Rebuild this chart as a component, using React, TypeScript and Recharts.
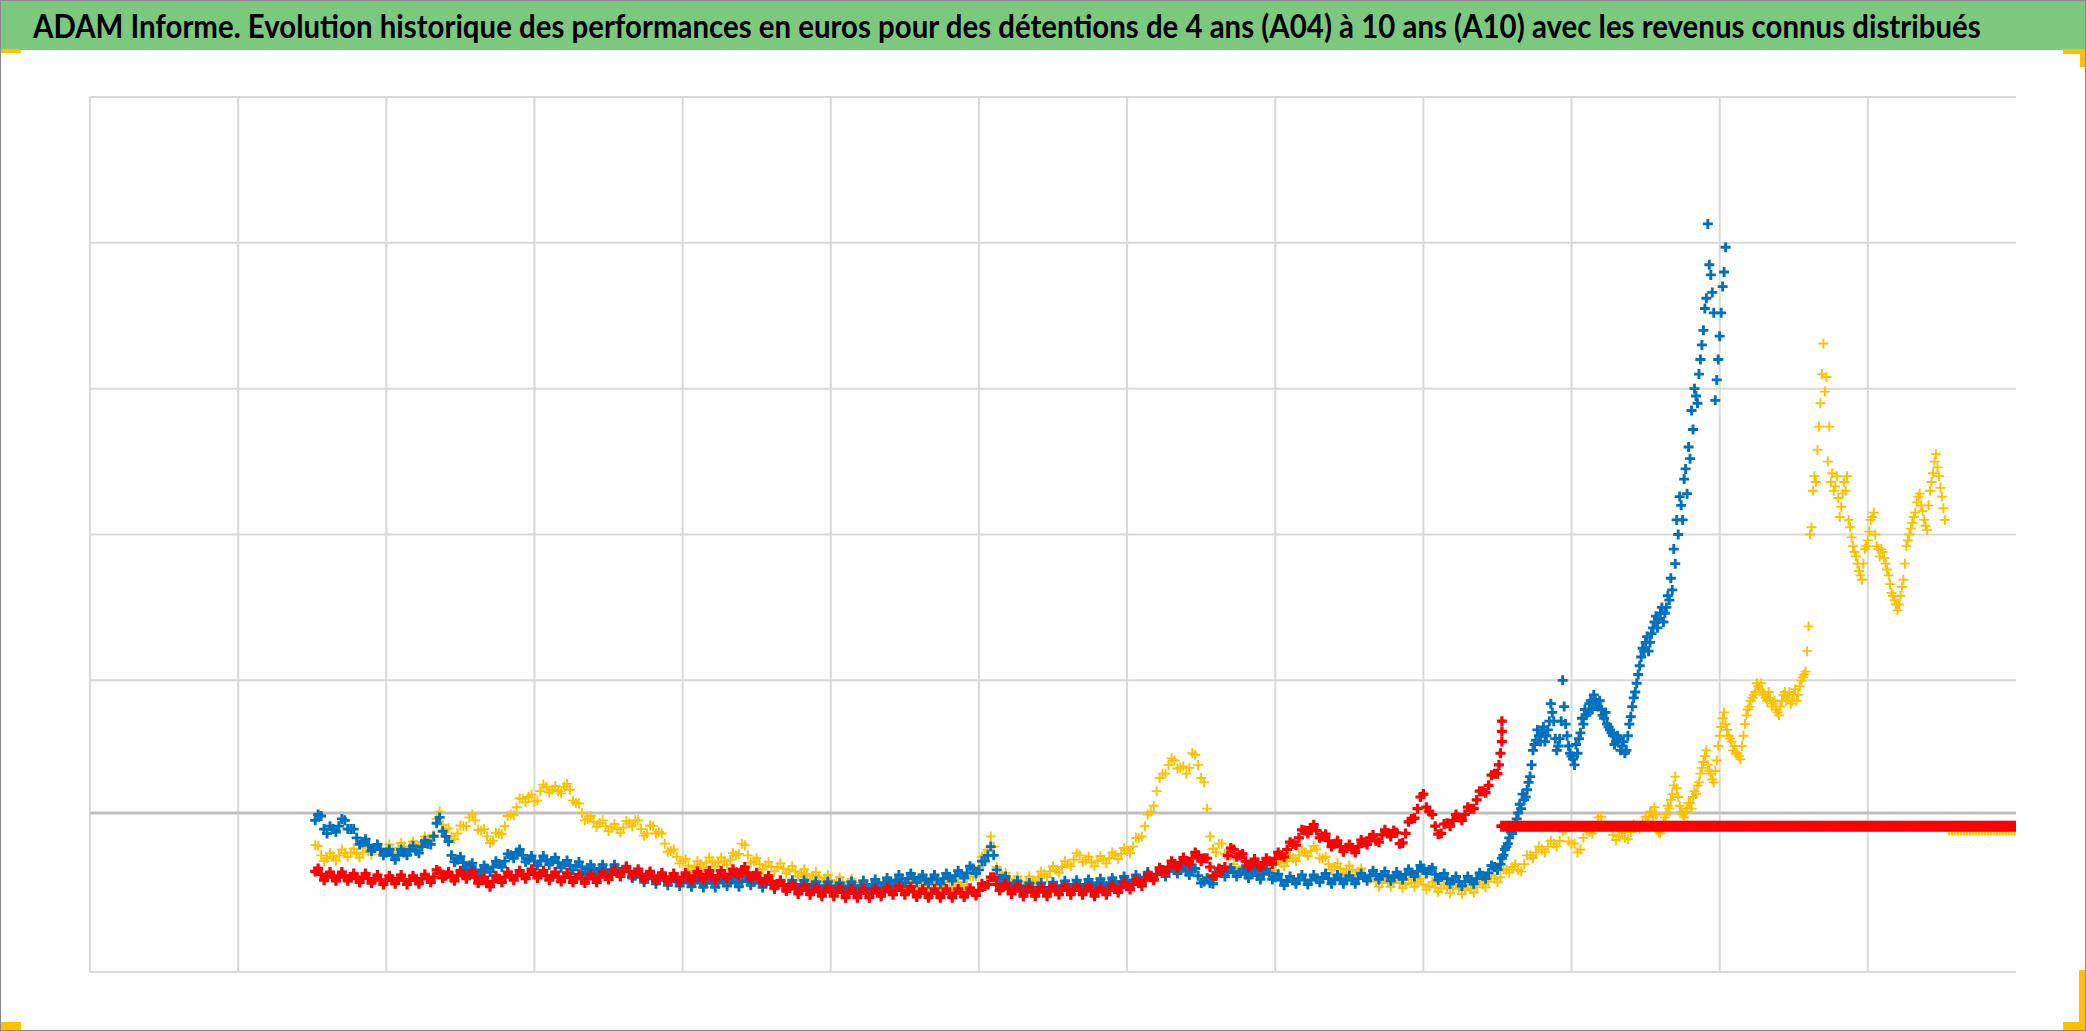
import React from "react";
import { ScatterChart, Scatter, XAxis, YAxis, ReferenceLine } from "recharts";

const TITLE =
  "ADAM Informe. Evolution historique des performances en euros pour des détentions de 4 ans (A04) à 10 ans (A10) avec les revenus connus distribués";

// x = years from the left edge of the plot (13 grid steps), y = relative value (flat level = 1)
const xTicks = [0, 1, 2, 3, 4, 5, 6, 7, 8, 9, 10, 11, 12];
const yTicks = [0, 2, 3, 4, 5, 6];
const axisCross = 1.09;

const step = 0.02;

// A04 - blue
const blueStart = 1.52;
const blueValues = [
  1.04, 1.08, 1.07, 0.98, 0.95, 1.0, 0.98, 0.96, 1.0, 1.05, 1.04, 0.98, 0.98, 0.98, 0.92, 0.875, 0.89, 0.91, 0.87, 0.83, 0.85, 0.875, 0.84, 0.8, 0.82,
  0.84, 0.8, 0.77, 0.8, 0.84, 0.82, 0.8, 0.84, 0.865, 0.83, 0.815, 0.86, 0.9, 0.88, 0.875, 0.93, 1.02, 1.06, 0.965, 0.93, 0.895, 0.8, 0.755, 0.77, 0.79,
  0.75, 0.71, 0.73, 0.745, 0.7, 0.665, 0.69, 0.73, 0.71, 0.685, 0.72, 0.76, 0.74, 0.72, 0.76, 0.81, 0.8, 0.78, 0.82, 0.84, 0.8, 0.755, 0.77, 0.795, 0.76,
  0.73, 0.76, 0.795, 0.77, 0.735, 0.76, 0.785, 0.75, 0.715, 0.74, 0.765, 0.73, 0.7, 0.73, 0.755, 0.72, 0.685, 0.71, 0.735, 0.7, 0.675, 0.71, 0.735, 0.7, 0.67,
  0.7, 0.735, 0.71, 0.675, 0.7, 0.725, 0.69, 0.645, 0.66, 0.685, 0.65, 0.615, 0.64, 0.67, 0.64, 0.605, 0.63, 0.66, 0.63, 0.595, 0.62, 0.65, 0.62, 0.59, 0.62,
  0.645, 0.61, 0.585, 0.62, 0.645, 0.61, 0.58, 0.61, 0.64, 0.61, 0.58, 0.61, 0.645, 0.62, 0.59, 0.62, 0.645, 0.61, 0.585, 0.62, 0.655, 0.63, 0.595, 0.62, 0.645,
  0.61, 0.58, 0.61, 0.635, 0.6, 0.57, 0.6, 0.63, 0.6, 0.57, 0.6, 0.63, 0.6, 0.57, 0.6, 0.63, 0.6, 0.565, 0.59, 0.62, 0.59, 0.56, 0.59, 0.62, 0.59,
  0.555, 0.58, 0.61, 0.585, 0.56, 0.59, 0.62, 0.59, 0.56, 0.59, 0.625, 0.6, 0.57, 0.6, 0.635, 0.61, 0.58, 0.61, 0.645, 0.62, 0.595, 0.63, 0.665, 0.64, 0.61,
  0.64, 0.675, 0.65, 0.615, 0.64, 0.665, 0.63, 0.605, 0.64, 0.665, 0.63, 0.605, 0.64, 0.675, 0.65, 0.625, 0.66, 0.695, 0.67, 0.645, 0.68, 0.725, 0.71, 0.675, 0.7,
  0.76, 0.76, 0.8, 0.86, 0.8, 0.7, 0.64, 0.64, 0.655, 0.61, 0.575, 0.6, 0.625, 0.59, 0.555, 0.58, 0.61, 0.58, 0.55, 0.575, 0.61, 0.58, 0.55, 0.58, 0.615,
  0.59, 0.56, 0.59, 0.625, 0.6, 0.57, 0.6, 0.63, 0.6, 0.57, 0.6, 0.635, 0.61, 0.58, 0.61, 0.64, 0.61, 0.58, 0.61, 0.645, 0.62, 0.59, 0.62, 0.655, 0.63,
  0.6, 0.63, 0.665, 0.64, 0.615, 0.65, 0.685, 0.66, 0.635, 0.67, 0.705, 0.68, 0.655, 0.69, 0.725, 0.7, 0.675, 0.71, 0.73, 0.69, 0.665, 0.7, 0.71, 0.66, 0.61,
  0.62, 0.645, 0.61, 0.605, 0.66, 0.705, 0.69, 0.655, 0.68, 0.715, 0.69, 0.655, 0.68, 0.705, 0.67, 0.645, 0.68, 0.7, 0.66, 0.635, 0.67, 0.705, 0.68, 0.635, 0.65,
  0.67, 0.63, 0.595, 0.62, 0.655, 0.63, 0.605, 0.64, 0.665, 0.63, 0.6, 0.63, 0.665, 0.64, 0.615, 0.65, 0.675, 0.64, 0.605, 0.63, 0.665, 0.64, 0.605, 0.63, 0.66,
  0.63, 0.605, 0.64, 0.675, 0.65, 0.625, 0.66, 0.695, 0.67, 0.635, 0.66, 0.69, 0.66, 0.625, 0.65, 0.685, 0.66, 0.635, 0.67, 0.705, 0.68, 0.655, 0.69, 0.73, 0.71,
  0.675, 0.7, 0.715, 0.67, 0.63, 0.65, 0.675, 0.64, 0.605, 0.63, 0.655, 0.62, 0.59, 0.62, 0.655, 0.63, 0.605, 0.64, 0.68, 0.66, 0.64, 0.68, 0.73, 0.72, 0.7,
];
const blueLateStart = 9.52;
const blueLateValues = [
  0.74, 0.8, 0.86, 0.92, 0.95, 1.02, 1.09, 1.12, 1.18,
  1.25, 1.34, 1.52, 1.59, 1.62, 1.64, 1.58, 1.66, 1.84, 1.72,
  1.52, 1.6, 2.0, 1.7, 1.55, 1.48, 1.42, 1.5, 1.64, 1.7,
  1.76, 1.84, 1.8, 1.87, 1.82, 1.8, 1.74, 1.7, 1.66, 1.62,
  1.58, 1.6, 1.55, 1.5, 1.62, 1.75, 1.88, 1.98, 2.1, 2.22,
  2.26, 2.2, 2.32, 2.4, 2.36, 2.46, 2.4, 2.5, 2.55, 2.62,
  2.8, 3.0, 3.2, 3.38, 3.28, 3.52, 3.72, 3.95, 4.1, 4.3,
  4.55, 5.13, 4.78, 4.52, 4.06, 4.36, 4.7, 4.97,
];
const blueCloudStart = 9.53;
const blueCloudValues = [
  0.78, 0.84, 0.88, 0.96, 0.98, 1.05, 1.15, 1.22, 1.2, 1.3,
  1.42, 1.56, 1.66, 1.58, 1.68, 1.62, 1.72, 1.78, 1.6, 1.55,
  1.72, 1.82, 1.62, 1.5, 1.46, 1.56, 1.6, 1.74, 1.8, 1.78,
  1.86, 1.9, 1.84, 1.86, 1.76, 1.78, 1.68, 1.64, 1.56, 1.62,
  1.52, 1.58, 1.52, 1.7, 1.82, 1.92, 2.04, 2.16, 2.2, 2.3,
  2.26, 2.36, 2.44, 2.42, 2.5, 2.46, 2.58, 2.7, 2.9, 3.1,
  3.26, 3.1, 3.45, 3.6, 3.85, 4.0, 3.9, 4.2, 4.4, 4.62,
  4.85, 4.66, 3.92, 4.2, 4.52, 4.8,
];

// A10 - yellow
const yellowStart = 1.52;
const yellowValues = [
  0.87, 0.865, 0.8, 0.76, 0.78, 0.815, 0.79, 0.765, 0.8, 0.84, 0.815, 0.79, 0.82, 0.845, 0.81, 0.785, 0.82, 0.855, 0.83, 0.805, 0.84, 0.875, 0.85, 0.82, 0.85,
  0.875, 0.84, 0.815, 0.85, 0.885, 0.86, 0.83, 0.86, 0.895, 0.87, 0.85, 0.89, 0.93, 0.91, 0.895, 0.94, 1.05, 1.1, 1.01, 0.98, 0.985, 0.93, 0.91, 0.95, 1.005,
  1.0, 1.0, 1.06, 1.08, 1.04, 0.975, 0.97, 0.98, 0.93, 0.885, 0.9, 0.955, 0.95, 0.945, 1.0, 1.07, 1.08, 1.075, 1.13, 1.19, 1.19, 1.165, 1.2, 1.215, 1.17,
  1.175, 1.24, 1.285, 1.27, 1.23, 1.25, 1.275, 1.24, 1.225, 1.27, 1.29, 1.25, 1.175, 1.16, 1.155, 1.09, 1.04, 1.05, 1.07, 1.03, 0.995, 1.02, 1.04, 1.0, 0.965,
  0.99, 1.015, 0.98, 0.955, 0.99, 1.035, 1.02, 1.0, 1.04, 1.04, 0.98, 0.935, 0.95, 1.005, 1.0, 0.95, 0.96, 0.95, 0.88, 0.825, 0.83, 0.84, 0.79, 0.745, 0.76,
  0.775, 0.73, 0.695, 0.72, 0.76, 0.74, 0.715, 0.75, 0.785, 0.76, 0.725, 0.75, 0.785, 0.76, 0.735, 0.77, 0.815, 0.8, 0.81, 0.88, 0.87, 0.8, 0.75, 0.76, 0.78,
  0.74, 0.705, 0.73, 0.755, 0.72, 0.69, 0.72, 0.745, 0.71, 0.675, 0.7, 0.725, 0.69, 0.655, 0.68, 0.705, 0.67, 0.635, 0.66, 0.685, 0.65, 0.615, 0.64, 0.665, 0.63,
  0.595, 0.62, 0.65, 0.62, 0.585, 0.61, 0.64, 0.61, 0.575, 0.6, 0.63, 0.6, 0.57, 0.6, 0.625, 0.59, 0.56, 0.59, 0.625, 0.6, 0.575, 0.61, 0.64, 0.61, 0.575,
  0.6, 0.625, 0.59, 0.56, 0.59, 0.615, 0.58, 0.55, 0.58, 0.61, 0.585, 0.56, 0.59, 0.62, 0.585, 0.555, 0.58, 0.615, 0.59, 0.565, 0.6, 0.66, 0.66, 0.66, 0.72,
  0.79, 0.8, 0.84, 0.93, 0.86, 0.72, 0.66, 0.66, 0.68, 0.64, 0.605, 0.63, 0.655, 0.62, 0.59, 0.62, 0.655, 0.63, 0.61, 0.65, 0.69, 0.67, 0.65, 0.69, 0.725,
  0.7, 0.68, 0.72, 0.76, 0.74, 0.725, 0.77, 0.815, 0.8, 0.755, 0.77, 0.79, 0.75, 0.725, 0.76, 0.795, 0.77, 0.745, 0.78, 0.82, 0.8, 0.775, 0.81, 0.85, 0.83,
  0.815, 0.86, 0.92, 0.92, 0.93, 1.0, 1.08, 1.1, 1.14, 1.24, 1.33, 1.36, 1.36, 1.42, 1.465, 1.45, 1.395, 1.4, 1.41, 1.36, 1.4, 1.5, 1.49, 1.42, 1.33,
  1.3, 1.12, 0.93, 0.845, 0.82, 0.88, 0.88, 0.81, 0.8, 0.8, 0.74, 0.69, 0.7, 0.72, 0.68, 0.67, 0.72, 0.76, 0.74, 0.69, 0.7, 0.735, 0.71, 0.695, 0.74,
  0.775, 0.75, 0.725, 0.76, 0.8, 0.78, 0.76, 0.8, 0.84, 0.82, 0.795, 0.83, 0.865, 0.84, 0.78, 0.78, 0.79, 0.74, 0.7, 0.72, 0.745, 0.71, 0.675, 0.7, 0.73,
  0.7, 0.665, 0.69, 0.71, 0.67, 0.625, 0.64, 0.66, 0.62, 0.585, 0.61, 0.645, 0.62, 0.585, 0.61, 0.64, 0.61, 0.575, 0.6, 0.635, 0.61, 0.585, 0.62, 0.64, 0.6,
  0.565, 0.59, 0.615, 0.58, 0.55, 0.575, 0.6, 0.57, 0.54, 0.575, 0.6, 0.57, 0.535, 0.56, 0.595, 0.57, 0.545, 0.58, 0.62, 0.6, 0.58, 0.62, 0.66, 0.64, 0.615,
  0.65, 0.705, 0.7, 0.68, 0.72, 0.74, 0.7, 0.69, 0.74, 0.8, 0.8, 0.78, 0.82, 0.86, 0.84, 0.82, 0.86, 0.9, 0.88, 0.86, 0.9, 0.965, 0.97, 0.895, 0.88,
  0.88, 0.82, 0.84, 0.92, 0.97, 0.96, 0.95, 1.0, 1.06, 1.065, 1.0, 1.0, 1.0, 0.94, 0.905, 0.93, 0.955, 0.92, 0.91, 0.96, 1.01, 1.0, 0.98, 1.02, 1.065,
];
const yellowLateStart = 10.52;
const yellowLateValues = [
  1.06, 1.1, 1.13, 1.0, 0.95, 1.02, 1.08, 1.12, 1.22,
  1.34, 1.2, 1.1, 1.06, 1.12, 1.16, 1.2, 1.22, 1.3, 1.4,
  1.48, 1.42, 1.36, 1.3, 1.45, 1.62, 1.74, 1.7, 1.62, 1.58,
  1.55, 1.5, 1.46, 1.62, 1.76, 1.82, 1.88, 1.92, 1.96, 1.98,
  1.9, 1.86, 1.88, 1.84, 1.8, 1.76, 1.86, 1.92, 1.88, 1.84,
  1.9, 1.86, 1.96, 2.02, 2.06, 2.37, 3.05, 3.4, 3.58, 3.9,
  4.31, 4.08, 3.74, 3.42, 3.33, 3.25, 3.19, 3.36, 3.4, 3.05,
  2.92, 2.85, 2.75, 2.69, 2.9, 2.96, 3.1, 3.15, 2.92, 2.85,
  2.88, 2.8, 2.72, 2.6, 2.55, 2.48, 2.58, 2.69, 2.92, 3.0,
  3.08, 3.15, 3.26, 3.2, 3.1, 3.03, 3.3, 3.42, 3.55, 3.4,
  3.26, 3.1,
];
const yellowCloudStart = 10.51;
const yellowCloudValues = [
  1.02, 1.1, 1.06, 1.08, 0.96, 0.98, 1.06, 1.14, 1.18, 1.28,
  1.26, 1.14, 1.08, 1.1, 1.16, 1.12, 1.24, 1.28, 1.36, 1.44,
  1.52, 1.38, 1.32, 1.38, 1.55, 1.68, 1.78, 1.66, 1.6, 1.52,
  1.5, 1.48, 1.55, 1.7, 1.8, 1.86, 1.9, 1.98, 1.94, 1.92,
  1.88, 1.92, 1.82, 1.86, 1.78, 1.82, 1.9, 1.86, 1.92, 1.86,
  1.94, 1.9, 2.0, 2.04, 2.2, 3.0, 3.3, 3.36, 3.74, 4.1,
  3.98, 3.5, 3.36, 3.3, 3.4, 3.12, 3.28, 3.3, 3.1, 2.98,
  2.88, 2.8, 2.72, 2.8, 2.92, 3.02, 3.12, 3.0, 2.9, 2.9,
  2.84, 2.76, 2.66, 2.58, 2.52, 2.52, 2.64, 2.8, 2.96, 3.04,
  3.12, 3.22, 3.28, 3.16, 3.06, 3.2, 3.36, 3.5, 3.46, 3.32,
  3.18,
];
const yellowFlatStart = 12.55;
const yellowFlatValues = [
  0.97, 0.97, 0.97, 0.97, 0.97, 0.97, 0.97, 0.97, 0.97, 0.97, 0.97, 0.97,
  0.97, 0.97, 0.97, 0.97, 0.97, 0.97, 0.97, 0.97, 0.97, 0.97, 0.97,
];

// revenus distribués - red
const redStart = 1.52;
const redValues = [
  0.69, 0.71, 0.67, 0.63, 0.65, 0.685, 0.66, 0.625, 0.65, 0.685, 0.66, 0.625, 0.65, 0.675, 0.64, 0.615, 0.65, 0.675, 0.64, 0.61, 0.64, 0.665, 0.63, 0.6, 0.63,
  0.66, 0.63, 0.605, 0.64, 0.665, 0.63, 0.6, 0.63, 0.66, 0.63, 0.605, 0.64, 0.67, 0.64, 0.615, 0.65, 0.7, 0.69, 0.645, 0.66, 0.685, 0.65, 0.625, 0.66, 0.695,
  0.67, 0.64, 0.67, 0.69, 0.65, 0.61, 0.63, 0.65, 0.61, 0.585, 0.62, 0.66, 0.64, 0.615, 0.65, 0.685, 0.66, 0.63, 0.66, 0.695, 0.67, 0.64, 0.67, 0.705, 0.68,
  0.645, 0.67, 0.695, 0.66, 0.63, 0.66, 0.685, 0.65, 0.62, 0.65, 0.68, 0.65, 0.615, 0.64, 0.67, 0.64, 0.61, 0.64, 0.67, 0.64, 0.615, 0.65, 0.685, 0.66, 0.635,
  0.67, 0.705, 0.68, 0.655, 0.69, 0.72, 0.69, 0.655, 0.68, 0.705, 0.67, 0.635, 0.66, 0.69, 0.66, 0.625, 0.65, 0.68, 0.65, 0.62, 0.65, 0.675, 0.64, 0.615, 0.65,
  0.68, 0.65, 0.625, 0.66, 0.69, 0.66, 0.635, 0.67, 0.695, 0.66, 0.63, 0.66, 0.695, 0.67, 0.64, 0.67, 0.705, 0.68, 0.66, 0.7, 0.72, 0.68, 0.64, 0.66, 0.68,
  0.64, 0.61, 0.635, 0.66, 0.62, 0.58, 0.6, 0.625, 0.59, 0.555, 0.58, 0.605, 0.57, 0.535, 0.56, 0.59, 0.56, 0.53, 0.555, 0.58, 0.55, 0.52, 0.55, 0.58, 0.55,
  0.52, 0.55, 0.575, 0.545, 0.51, 0.54, 0.57, 0.54, 0.51, 0.54, 0.57, 0.54, 0.51, 0.54, 0.57, 0.545, 0.52, 0.55, 0.58, 0.555, 0.53, 0.56, 0.59, 0.56, 0.53,
  0.56, 0.585, 0.55, 0.515, 0.54, 0.57, 0.54, 0.51, 0.54, 0.57, 0.54, 0.51, 0.54, 0.57, 0.54, 0.51, 0.54, 0.57, 0.545, 0.515, 0.54, 0.575, 0.55, 0.525, 0.56,
  0.605, 0.59, 0.6, 0.65, 0.65, 0.6, 0.56, 0.58, 0.605, 0.57, 0.535, 0.56, 0.59, 0.555, 0.52, 0.55, 0.58, 0.55, 0.52, 0.55, 0.58, 0.55, 0.52, 0.555, 0.59,
  0.56, 0.53, 0.56, 0.59, 0.565, 0.53, 0.56, 0.59, 0.56, 0.53, 0.56, 0.59, 0.555, 0.52, 0.55, 0.58, 0.555, 0.53, 0.56, 0.595, 0.57, 0.545, 0.58, 0.615, 0.59,
  0.565, 0.6, 0.635, 0.61, 0.59, 0.63, 0.67, 0.65, 0.63, 0.67, 0.715, 0.7, 0.68, 0.72, 0.76, 0.74, 0.715, 0.75, 0.785, 0.76, 0.74, 0.78, 0.82, 0.8, 0.76,
  0.78, 0.78, 0.72, 0.66, 0.66, 0.71, 0.7, 0.72, 0.8, 0.85, 0.84, 0.79, 0.8, 0.81, 0.76, 0.72, 0.74, 0.775, 0.75, 0.715, 0.74, 0.78, 0.76, 0.74, 0.78,
  0.82, 0.8, 0.79, 0.84, 0.89, 0.88, 0.87, 0.92, 0.975, 0.97, 0.95, 0.99, 1.01, 0.97, 0.92, 0.93, 0.945, 0.9, 0.86, 0.88, 0.9, 0.86, 0.825, 0.85, 0.875,
  0.84, 0.82, 0.86, 0.905, 0.89, 0.875, 0.92, 0.94, 0.9, 0.89, 0.94, 0.975, 0.95, 0.93, 0.97, 0.955, 0.88, 0.885, 0.95, 1.03, 1.05, 1.055, 1.12, 1.2, 1.22,
  1.13, 1.1, 1.08, 1.0, 0.945, 0.95, 1.015, 1.02, 1.0, 1.04, 1.08, 1.06, 1.04, 1.08, 1.13, 1.12, 1.12, 1.18, 1.24, 1.24, 1.23, 1.28, 1.35, 1.36, 1.36,
];
const redTailX = [9.51, 9.52, 9.53, 9.53, 9.53];
const redTailY = [1.42, 1.5, 1.58, 1.65, 1.72];
const redFlatStart = 9.53;
const redFlatValues = [
  1, 1, 1, 1, 1, 1, 1, 1, 1, 1, 1, 1, 1, 1, 1, 1, 1, 1, 1, 1, 1, 1, 1, 1, 1, 1, 1, 1, 1,
  1, 1, 1, 1, 1, 1, 1, 1, 1, 1, 1, 1, 1, 1, 1, 1, 1, 1, 1, 1, 1, 1, 1, 1, 1, 1, 1, 1, 1,
  1, 1, 1, 1, 1, 1, 1, 1, 1, 1, 1, 1, 1, 1, 1, 1, 1, 1, 1, 1, 1, 1, 1, 1, 1, 1, 1, 1, 1,
  1, 1, 1, 1, 1, 1, 1, 1, 1, 1, 1, 1, 1, 1, 1, 1, 1, 1, 1, 1, 1, 1, 1, 1, 1, 1, 1, 1, 1,
  1, 1, 1, 1, 1, 1, 1, 1, 1, 1, 1, 1, 1, 1, 1, 1, 1, 1, 1, 1, 1, 1, 1, 1, 1, 1, 1, 1, 1,
  1, 1, 1, 1, 1, 1, 1, 1, 1, 1, 1, 1, 1, 1, 1, 1, 1, 1, 1, 1, 1, 1, 1, 1, 1, 1, 1, 1, 1,
];

type Pt = { x: number; y: number };

const series = (start: number, values: number[]): Pt[] =>
  values.map((y, i) => ({ x: +(start + i * step).toFixed(3), y }));

const blueData = [
  ...series(blueStart, blueValues),
  ...series(blueLateStart, blueLateValues),
  ...series(blueCloudStart, blueCloudValues),
];
const yellowData = [
  ...series(yellowStart, yellowValues),
  ...series(yellowLateStart, yellowLateValues),
  ...series(yellowCloudStart, yellowCloudValues),
];
const yellowFlatData = series(yellowFlatStart, yellowFlatValues);
const redData = [...series(redStart, redValues), ...redTailX.map((x, i) => ({ x, y: redTailY[i] }))];
const redFlatData = series(redFlatStart, redFlatValues);

const plus = (color: string, r: number, w: number) => (props: any) => {
  const { cx, cy } = props;
  if (cx == null || cy == null) return <g />;
  return (
    <path
      d={`M${cx - r},${cy}H${cx + r}M${cx},${cy - r}V${cy + r}`}
      stroke={color}
      strokeWidth={w}
      fill="none"
    />
  );
};

const ORANGE = "#ffc000";
const GRID = "#d9d9d9";
const TITLE_LEFT = 33;
const TITLE_WIDTH = 1948;

const corner = (left: number, top: number, width: number, height: number) => (
  <div style={{ position: "absolute", left, top, width, height, background: ORANGE }} />
);

function Title() {
  const ref = React.useRef<HTMLSpanElement>(null);
  const [k, setK] = React.useState(0.9);
  React.useLayoutEffect(() => {
    if (ref.current && ref.current.offsetWidth > 0) setK(TITLE_WIDTH / ref.current.offsetWidth);
  }, []);
  return (
    <span
      ref={ref}
      style={{
        position: "absolute",
        left: TITLE_LEFT,
        top: 10,
        whiteSpace: "nowrap",
        fontFamily: "Lato, 'Open Sans', sans-serif",
        fontWeight: 700,
        fontSize: 32,
        lineHeight: "32px",
        color: "#000",
        transform: `scaleX(${k})`,
        transformOrigin: "0 0",
      }}
    >
      {TITLE}
    </span>
  );
}

export default function App() {
  return (
    <div
      style={{
        position: "absolute",
        left: 0,
        top: 0,
        width: 2086,
        height: 1031,
        background: "#fff",
        overflow: "hidden",
      }}
    >
      <ScatterChart
        width={2086}
        height={1031}
        margin={{ top: 97, right: 70, bottom: 59, left: 90 }}
        style={{ position: "absolute", left: 0, top: 0 }}
      >
        <XAxis
          type="number"
          dataKey="x"
          domain={[0, 13]}
          ticks={xTicks}
          height={0}
          tick={false}
          tickLine={false}
          axisLine={false}
          allowDataOverflow
        />
        <YAxis
          type="number"
          dataKey="y"
          domain={[0, 6]}
          ticks={yTicks}
          width={0}
          tick={false}
          tickLine={false}
          axisLine={false}
          allowDataOverflow
        />
        {xTicks.map((t) => (
          <ReferenceLine key={`vx${t}`} x={t} stroke={GRID} strokeWidth={2} />
        ))}
        {yTicks.map((t) => (
          <ReferenceLine key={`hy${t}`} y={t} stroke={GRID} strokeWidth={2} />
        ))}
        <ReferenceLine y={axisCross} stroke="#bfbfbf" strokeWidth={3} />
        <Scatter data={yellowData} shape={plus("#ffc000", 5, 1.9)} isAnimationActive={false} />
        <Scatter data={blueData} shape={plus("#0070c0", 5, 2.9)} isAnimationActive={false} />
        <Scatter data={redData} shape={plus("#ff0000", 5, 3.2)} isAnimationActive={false} />
        <Scatter data={yellowFlatData} shape={plus("#ffc000", 5, 2.4)} isAnimationActive={false} />
        <Scatter data={redFlatData} shape={plus("#ff0000", 5.5, 3.6)} isAnimationActive={false} />
      </ScatterChart>

      <div style={{ position: "absolute", left: 0, top: 0, width: 2086, height: 50, background: "#7dc87f" }} />
      <Title />

      {corner(0, 49, 21, 4)}
      {corner(2063, 49, 23, 5)}
      {corner(2080, 49, 6, 18)}
      {corner(0, 1022, 21, 9)}
      {corner(2063, 1022, 23, 9)}
      {corner(2079, 970, 7, 61)}

      <div
        style={{
          position: "absolute",
          left: 0,
          top: 0,
          width: 2086,
          height: 1031,
          boxSizing: "border-box",
          border: "1px solid #8a8a8a",
          pointerEvents: "none",
        }}
      />
    </div>
  );
}
